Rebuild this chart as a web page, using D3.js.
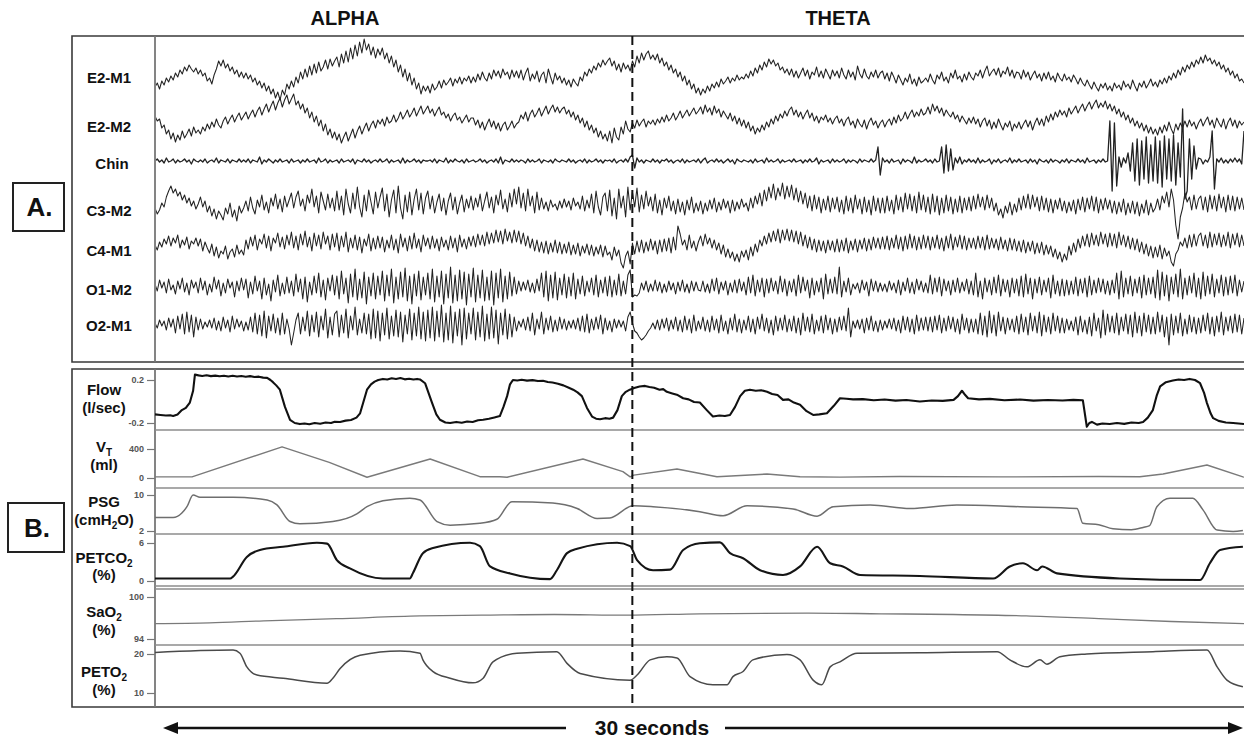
<!DOCTYPE html>
<html>
<head>
<meta charset="utf-8">
<script src="https://cdn.jsdelivr.net/npm/d3@7"></script>
<style>
  body { margin: 0; background: #fff; }
  svg { display: block; }
  text { font-family: "Liberation Sans", Arial, sans-serif; font-weight: bold; }
</style>
</head>
<body>
<svg id="chart" width="1244" height="742"></svg>
<script>
// ---------- Recording: 30 s epoch, alpha → theta transition ----------
const epochSeconds = 30;
const transitionTime = 13.15;           // s, alpha-to-theta boundary
const stageLabels = ["ALPHA", "THETA"];
const durationLabel = "30 seconds";

// EEG / EOG / EMG channels: deflections in display units, 480 samples over the epoch
const eegChannels = ["E2-M1", "E2-M2", "Chin", "C3-M2", "C4-M1", "O1-M2", "O2-M1"];

const e2m1 = [
  -12,-8,-14,-6,-10,-3,-7,-1,-5,2,-2,5,1,8,4,10,6,3,7,1,
  5,-1,2,-6,-3,-9,0,6,14,9,15,7,11,4,8,1,5,-2,3,-3,
  2,-4,0,-7,-3,-10,-6,-13,-8,-16,-11,-19,-14,-23,-17,-25,-15,-20,-9,-14,
  -6,-12,-2,-8,3,-4,6,-2,9,0,11,2,13,4,8,15,6,16,9,14,
  18,8,21,12,24,13,27,16,30,19,33,22,36,25,31,20,28,17,26,20,
  27,16,22,12,19,8,15,3,10,-2,6,-6,2,-10,-3,-14,-8,-19,-11,-16,
  -11,-18,-9,-15,-12,-6,-13,-5,-10,-7,-3,-11,-4,-8,-2,-9,-3,-6,-1,-8,
  -2,-7,1,-5,3,-3,-6,2,-4,5,-1,4,-3,6,0,3,-4,5,-2,4,
  -3,5,-5,2,7,-6,1,-4,4,-7,0,3,-8,6,-2,-9,2,-5,-1,-8,
  -3,-10,-5,-12,-4,-8,-11,-2,-6,3,-1,6,2,9,5,12,8,15,10,14,
  17,9,14,5,11,3,12,6,10,4,14,8,19,12,22,15,21,24,16,20,
  15,21,12,17,9,13,5,10,2,6,-2,3,-6,-1,-10,-5,-14,-9,-18,-13,
  -20,-14,-18,-11,-16,-9,-13,-7,-12,-4,-9,-6,-2,-8,-3,-6,0,-5,-2,-4,
  1,-3,4,-1,7,2,10,5,13,8,16,11,15,9,12,5,8,2,6,0,
  6,-2,4,-3,2,7,-1,5,-4,3,0,8,-2,4,-3,6,1,-4,5,-1,
  4,-3,7,0,-4,5,-2,3,-5,9,1,-3,6,-1,-4,3,-2,5,-3,2,
  4,-4,2,-6,3,-2,-8,0,-5,-10,-3,-7,1,-9,-4,-11,-2,-8,-6,-3,
  -7,1,-5,-9,0,-4,3,-6,-2,-8,2,-3,5,-4,-1,-7,1,-5,3,-2,
  -5,2,-1,5,-3,4,9,-1,3,6,0,7,-2,4,1,8,-1,5,-3,3,
  2,-4,5,-2,3,-5,0,4,-3,1,-6,2,-4,3,-5,-1,-7,2,-3,-6,
  1,-5,-2,-7,0,-4,-9,-3,-8,-11,-5,-10,-14,-7,-12,-16,-9,-13,-8,-15,
  -11,-16,-8,-13,-10,-15,-6,-12,-9,-14,-5,-11,-16,-8,-12,-6,-13,-9,-4,-11,
  -7,-12,-5,-9,-3,-8,-1,-5,2,-3,5,0,8,3,10,6,13,8,15,11,
  18,12,20,14,17,11,15,9,13,6,10,3,7,0,4,-3,1,-6,-4,-8
];
const e2m2 = [
  9,4,6,-3,0,-9,-5,-14,-8,-17,-10,-15,-6,-13,-9,-4,-11,-2,-8,-5,
  -9,-2,-6,1,-4,3,-2,6,0,-3,4,8,1,6,10,3,8,12,5,9,
  13,6,11,15,8,14,18,10,16,21,13,19,24,15,22,27,18,25,30,21,
  26,31,20,24,16,21,12,17,7,13,3,9,-1,5,-6,1,-10,-4,-13,-7,
  -15,-9,-18,-12,-7,-16,-10,-4,-13,-6,-1,-9,-3,2,-6,0,4,-3,5,1,
  6,-1,8,2,4,10,3,7,13,6,10,15,8,12,17,9,14,19,11,15,
  19,12,16,9,14,18,10,13,7,11,4,9,12,5,8,2,6,10,3,7,
  7,0,5,-3,3,-5,1,6,-2,4,-4,2,-6,0,3,-5,-1,4,-3,1,
  3,10,6,13,4,11,15,8,12,17,9,14,19,11,16,20,13,18,12,16,
  18,11,15,8,13,5,10,2,7,-2,4,-5,0,-8,-3,-12,-6,-14,-9,-16,
  -6,-18,-3,-12,-15,-2,-9,4,-4,-7,2,-3,5,-1,3,6,-2,4,1,5,
  0,6,2,8,3,10,4,7,12,5,9,14,7,11,15,9,13,17,11,14,
  18,11,20,13,17,10,19,12,16,8,14,10,6,12,4,9,1,7,-1,5,
  -3,3,-6,-1,-9,-3,-7,0,-5,3,-2,6,1,9,4,11,7,14,9,15,
  18,10,15,8,13,6,11,15,7,12,4,9,2,8,5,10,3,7,1,6,
  9,2,6,-1,5,8,0,4,-3,6,1,-2,5,-4,3,7,0,4,-3,2,
  5,-2,3,6,0,8,2,10,4,7,13,6,11,15,8,13,9,16,10,12,
  18,11,21,14,19,12,17,9,15,11,8,13,6,10,3,9,5,1,7,2,
  8,1,6,-2,4,7,-1,5,-4,3,-3,6,0,-5,2,-2,4,-6,1,-3,
  3,-4,1,5,-2,4,-5,2,7,0,6,-1,9,3,11,5,13,8,15,10,
  14,8,17,11,15,19,12,17,21,14,19,23,16,21,25,17,22,18,24,16,
  21,14,19,11,16,8,13,5,10,2,7,-1,4,-3,2,-6,0,-8,-2,-9,
  -4,-10,-2,-8,0,-6,3,-4,-9,1,-5,2,-3,4,-2,5,-1,3,-4,2,
  6,-1,4,8,0,5,-3,7,2,-2,6,-4,3,7,-1,5,-3,4,0,3
];
const chin = [
  0,2,-1,1,-2,3,-1,0,2,-2,1,-1,0,2,-1,1,-3,2,0,-1,
  1,-1,2,-2,0,1,-1,3,-2,1,0,-1,2,-2,1,0,-1,2,-1,1,
  -1,2,-2,1,0,-1,4,-3,1,-1,2,0,-2,1,-1,2,-1,0,1,-2,
  2,-1,0,1,-2,1,-1,2,-1,0,1,-2,3,-1,0,2,-2,1,-1,0,
  1,-2,2,-1,0,1,-1,2,-3,1,0,-1,2,-1,1,-2,0,1,-1,2,
  -1,0,2,-2,1,-1,0,1,-2,3,-2,1,-1,0,2,-1,1,-2,1,0,
  0,1,-1,2,-2,1,0,-1,3,-2,1,-1,2,0,-1,1,-2,2,-1,0,
  1,-1,0,2,-1,1,-2,0,1,-1,2,-2,4,-3,1,0,-1,2,-1,1,
  -1,1,0,-2,2,-1,1,-1,0,2,-2,1,0,-1,1,-2,2,0,-1,1,
  0,-1,2,-1,1,-2,0,1,-1,2,-2,1,-1,0,2,-1,1,-2,1,0,
  1,-1,2,-2,0,1,-1,2,-1,4,6,-7,3,-1,1,-2,1,0,-1,2,
  -1,1,-2,1,0,2,-1,1,-2,0,1,-1,2,-2,1,-1,0,1,-1,2,
  -2,1,3,-2,0,1,-1,2,-1,1,-2,0,2,-1,1,-3,2,0,-1,1,
  0,-1,1,-2,2,-1,0,1,-2,3,-1,1,-1,0,2,-2,1,-1,0,1,
  -1,2,-1,0,1,-2,1,-1,2,-1,0,3,-3,1,-1,0,1,-2,2,-1,
  1,-1,0,2,-2,1,-1,1,0,-2,2,-1,1,0,-1,2,-1,1,14,-14,
  3,-1,1,-2,2,-1,0,1,-3,2,-1,1,0,-2,4,-2,1,-1,0,2,
  -1,1,-2,2,-1,0,14,-12,16,-10,12,-9,3,-2,4,-3,1,-1,2,-1,
  1,-2,3,-2,1,-1,0,2,-3,1,-1,2,-2,0,1,-1,3,-2,1,-1,
  2,-1,0,1,-2,2,-1,1,-3,2,0,-1,1,-2,2,-1,1,0,-2,1,
  -1,2,-2,1,0,-1,2,-1,1,-2,3,-1,0,1,-2,1,-1,2,-1,0,
  40,-30,38,-25,4,-6,3,-2,8,-10,18,-20,22,-24,20,-18,24,-22,16,-20,
  24,-22,20,-26,25,-18,22,-20,26,-24,18,-16,52,-38,-30,22,-18,15,-8,3,
  2,-3,1,-1,4,30,-28,2,-1,3,-2,1,-2,2,-1,3,-1,2,-3,30
];
const c3m2 = [
  -3,-9,-5,2,-2,8,14,19,12,16,9,13,5,10,2,7,-1,4,-4,1,
  8,-2,4,-7,-1,-11,-4,-14,-6,-10,-15,-3,-9,2,-12,-5,-16,-1,-8,-3,
  4,-6,8,-3,-9,5,-2,10,-5,3,-8,7,-1,11,-4,6,-7,9,-2,5,
  12,-3,8,14,-1,6,-6,10,2,16,-2,9,-8,13,4,-5,11,-3,7,-6,
  14,-5,9,-10,16,1,-8,12,-4,18,-2,-12,10,-6,15,3,-9,13,-3,8,
  17,-6,11,-12,5,15,-8,19,-3,-14,10,-7,13,-10,6,16,-5,12,-9,7,
  14,-4,9,-8,3,11,-6,7,-10,4,12,-5,8,-9,2,10,-7,6,-3,9,
  -5,7,-2,11,-6,4,13,-3,8,-8,10,0,15,-4,6,-7,12,-2,16,1,
  18,-3,12,-6,16,-1,9,-8,13,-5,7,-4,3,-6,5,-2,1,-5,4,-3,
  6,-2,4,-5,7,-1,3,-4,9,-6,5,-3,11,-8,14,-2,-10,8,12,-6,
  15,-11,7,-14,16,-3,9,-12,18,-5,13,-2,17,-7,10,-4,14,-1,8,-6,
  11,-8,5,-10,7,-3,9,-6,4,-9,6,-7,3,-10,5,-5,8,-8,2,-6,
  4,-9,2,-6,5,-4,7,-7,3,-5,6,-3,4,-8,5,-6,3,-4,6,-2,
  2,-6,7,-3,9,1,12,-1,15,4,18,7,21,5,17,9,22,6,19,8,
  20,5,17,3,14,1,12,-3,9,-6,10,-4,8,-8,6,-5,9,-7,7,-4,
  8,-7,5,-9,9,-6,7,-8,10,-4,6,-9,8,-7,5,-10,9,-6,7,-8,
  7,-8,9,-6,5,-9,10,-5,8,-7,12,-4,11,-6,9,-8,13,-5,10,-7,
  8,-9,11,-7,9,-10,7,-8,10,-6,8,-9,6,-7,9,-8,7,-5,8,-6,
  9,-4,11,-2,8,-5,10,-3,7,-6,2,-10,-4,-13,-1,-8,3,-10,1,-7,
  7,-5,9,-3,11,-4,10,-2,8,-6,9,-5,7,-7,6,-8,5,-4,7,-6,
  4,-8,3,-6,5,-9,6,-5,8,-7,7,-4,9,-6,8,-8,6,-5,7,-4,
  5,-8,4,-9,3,-7,6,-10,2,-8,4,-9,3,-11,1,-8,5,-10,2,-7,
  -3,6,-5,9,2,13,-2,16,5,-20,-34,-12,-3,12,3,8,-5,10,-4,6,
  9,-5,8,-7,10,-4,9,-6,11,-3,8,-7,10,-5,9,-6,8,-4,7,-5
];
const c4m1 = [
  3,-2,6,1,9,4,12,2,10,5,13,0,8,3,11,-1,7,4,10,2,
  9,-3,6,0,-5,4,-8,1,-10,-3,-6,2,-11,-4,-1,-9,3,-6,-2,-7,
  8,-1,11,2,13,-2,9,4,14,0,12,-3,10,5,15,1,11,-1,13,3,
  16,0,12,-2,14,3,17,1,11,-3,15,2,13,-1,16,4,12,-2,14,1,
  15,-3,12,1,16,-4,10,0,13,-2,11,-5,9,2,14,-3,10,-1,12,0,
  11,-4,8,0,13,-2,9,-5,14,1,10,-3,12,-1,15,0,9,-4,13,2,
  10,-1,12,0,9,-3,11,1,8,-2,12,0,10,-4,13,1,9,-1,11,2,
  12,1,14,3,13,2,16,4,15,5,18,6,17,4,19,7,16,5,18,6,
  17,4,15,2,12,0,9,-3,8,-4,6,-5,7,-6,5,-4,8,-5,6,-6,
  4,-5,6,-7,3,-6,5,-8,2,-5,4,-7,3,-8,1,-6,3,-9,2,-7,
  -4,-12,1,-8,-2,-15,-20,-8,-3,-16,5,-6,7,-4,8,-5,6,-3,9,-2,
  7,-6,8,-4,9,-3,10,-5,11,-2,22,14,3,8,-2,13,0,7,-3,6,
  12,2,14,4,10,0,8,-2,5,-6,3,-9,-1,-10,-4,-13,-6,-14,-3,-9,
  -2,-12,1,-8,4,-4,8,2,12,4,15,6,17,7,19,5,18,8,19,7,
  18,6,17,4,16,2,13,0,11,-2,9,-4,8,-3,7,-5,8,-2,7,-4,
  9,-4,8,-3,10,-5,7,-2,9,-4,8,-1,10,-3,9,-2,11,0,10,-1,
  11,-1,12,-2,10,0,13,-1,11,-3,12,-1,14,0,12,-2,11,-1,13,0,
  12,-2,11,0,13,-1,10,-3,12,0,14,-2,11,1,13,-1,12,-2,10,0,
  10,-1,12,0,11,-2,13,-1,10,0,9,-2,11,-1,8,-3,10,-2,9,-3,
  7,-4,8,-5,6,-3,7,-6,5,-5,6,-7,3,-6,2,-9,-1,-11,-4,-14,
  -6,-12,2,-7,5,-4,9,0,12,2,14,1,15,3,13,2,16,4,14,1,
  15,2,14,0,16,3,13,1,12,-1,10,-2,9,-4,6,-6,4,-8,2,-10,
  1,-9,3,-11,0,-8,-3,-14,-18,-6,-2,6,2,10,0,13,1,14,2,12,
  15,2,13,0,16,1,14,3,15,1,13,2,16,0,14,3,15,1,13,2
];
const o1m2 = [
  3,-4,7,-1,5,-6,8,-3,2,-7,6,-2,9,-5,4,-8,7,-1,5,-6,
  9,-3,6,-8,3,-5,10,-2,7,-9,4,-6,8,-1,5,-10,6,-4,9,-3,
  8,-11,5,-7,11,-4,6,-12,9,-8,3,-14,7,-5,12,-9,4,-7,10,-6,
  6,-9,13,-5,8,-12,10,-15,5,-8,11,-6,14,-10,7,-13,9,-4,12,-8,
  11,-12,16,-7,9,-16,13,-10,18,-13,8,-11,15,-17,10,-9,14,-12,11,-8,
  16,-14,12,-9,18,-16,10,-12,15,-10,19,-14,11,-17,13,-9,16,-13,10,-8,
  14,-12,18,-15,11,-10,16,-17,13,-11,20,-16,12,-14,17,-12,15,-18,13,-10,
  19,-15,12,-11,17,-14,10,-13,16,-18,14,-11,18,-15,11,-12,15,-9,10,-7,
  6,-4,5,-3,7,-5,4,-6,8,-4,14,-10,16,-14,12,-11,15,-13,9,-8,
  13,-11,10,-9,14,-12,8,-7,11,-9,6,-5,9,-8,12,-10,7,-6,10,-9,
  11,-10,7,-8,13,-9,6,-7,12,17,-10,-8,-9,-6,4,-3,6,-5,3,-4,
  7,-4,5,-6,3,-5,6,-3,4,-7,5,-4,7,-5,3,-6,6,-4,5,-3,
  -4,6,-5,3,-6,8,-4,9,-7,5,-3,6,-8,4,-5,7,-6,8,-4,5,
  -8,10,-6,12,-9,7,-5,9,-10,8,-6,9,-4,6,-7,11,-5,8,-9,6,
  -5,8,-9,12,-6,10,-4,7,-11,9,-8,6,-5,9,-12,13,-7,8,-6,10,
  -7,20,-10,6,-5,9,-8,3,-2,4,-6,7,-3,5,-9,8,-4,6,-5,4,
  -4,3,-5,6,-3,4,-6,7,-8,5,-4,9,-6,5,-7,8,-3,6,-5,4,
  -6,12,-7,9,-5,10,-9,8,-4,6,-8,7,-5,9,-6,5,-4,8,-7,6,
  -8,14,-10,6,-12,9,-5,7,-8,10,-6,12,-9,8,-5,7,-10,9,-6,8,
  -9,11,-10,13,-7,9,-12,8,-6,10,-8,7,-5,9,-11,12,-7,6,-9,8,
  -9,7,-8,6,-7,10,-9,8,-6,9,-10,11,-8,7,-6,9,-5,8,-7,6,
  -8,7,-6,14,-12,16,-10,9,-7,11,-9,8,-6,10,-11,12,-8,9,-7,10,
  -11,17,-13,15,-9,12,-14,10,-7,13,-10,18,-12,9,-8,11,-6,14,-10,9,
  -12,15,-9,11,-7,13,-10,8,-6,12,-9,10,-8,11,-6,12,-9,7,-5,6
];
const o2m1 = [
  2,-3,5,-1,4,-5,7,-2,6,-8,9,-4,11,-9,13,-7,10,-12,8,-5,
  6,-4,3,-2,5,-3,7,-5,4,-6,8,-3,5,-7,9,-4,6,-2,4,-6,
  3,-5,8,-7,12,-9,10,-11,14,-13,9,-6,11,-8,7,-10,12,-9,6,-4,
  -20,-8,5,12,-9,8,-6,14,-11,10,-7,13,-12,9,-5,16,-13,8,-10,11,
  14,-12,10,-8,16,-13,9,-5,18,-10,6,-8,12,-9,11,-14,16,-13,14,-16,
  12,-10,17,-14,9,-11,15,-12,13,-17,10,-9,16,-15,12,-11,18,-14,13,-16,
  15,-13,18,-16,14,-12,20,-17,12,-15,19,-18,13,-11,16,-20,17,-14,12,-9,
  17,-15,13,-12,19,-16,11,-14,18,-13,15,-19,12,-10,16,-14,11,-12,8,-6,
  4,-2,6,-5,8,-6,12,-10,6,-4,13,-9,7,-5,9,-7,5,-6,8,-4,
  6,-5,4,-3,5,-4,7,-6,9,-7,11,-8,6,-5,8,-4,10,-9,7,-5,
  4,-7,6,-3,5,-2,4,-6,8,13,2,-6,-8,-12,-15,-13,-10,-6,-3,2,
  -4,5,-5,6,-3,7,-6,5,-4,8,-6,5,-7,9,-5,6,-8,10,-6,4,
  -4,8,-6,5,-7,9,-5,6,-8,10,-6,4,-9,7,-5,11,-7,6,-8,5,
  -5,9,-7,6,-9,8,-4,11,-6,7,-8,5,-10,9,-6,7,-5,10,-7,6,
  -6,9,-8,7,-10,12,-6,8,-7,11,-9,5,-6,9,-8,10,-5,7,-9,6,
  -7,8,-5,9,-6,17,-12,4,-3,5,-4,6,-8,7,-5,9,-6,4,-7,5,
  -5,4,-3,6,-4,7,-6,5,-8,9,-5,8,-7,6,-9,10,-6,7,-5,8,
  -6,8,-7,9,-5,10,-8,7,-6,9,-4,8,-7,6,-9,11,-5,7,-8,6,
  -7,6,-9,12,-10,9,-12,14,-8,10,-11,13,-6,8,-9,7,-5,6,-7,9,
  -9,11,-7,8,-10,12,-6,9,-8,13,-11,10,-7,8,-9,12,-6,9,-8,7,
  -8,6,-5,4,-6,8,-10,9,-7,5,-9,8,-11,12,-6,7,-13,15,-10,11,
  -7,9,-8,12,-10,8,-6,11,-9,10,-12,13,-8,9,-11,12,-7,10,-9,8,
  -9,13,-7,10,-12,8,-20,11,-10,9,-8,12,-11,6,-9,10,-7,8,-9,7,
  -8,10,-6,12,-9,8,-11,9,-7,13,-10,8,-6,9,-8,11,-7,10,-9,7
];

// Respiratory channels: sample times (s) and values
const flowTime = [
  0,0.15,0.3,0.42,0.5,0.62,0.74,0.85,0.96,1.05,
  1.1,1.2,1.3,1.42,1.54,1.66,1.78,1.9,2.02,2.14,
  2.26,2.38,2.5,2.62,2.74,2.86,2.98,3.09,3.18,3.25,
  3.34,3.44,3.58,3.72,3.85,3.99,4.12,4.25,4.4,4.55,
  4.7,4.85,4.95,5.1,5.25,5.4,5.55,5.65,5.84,5.95,
  6.05,6.15,6.28,6.4,6.52,6.64,6.76,6.88,7.0,7.12,
  7.22,7.3,7.44,7.63,7.75,7.85,8.0,8.13,8.3,8.45,
  8.6,8.75,8.9,9.04,9.2,9.35,9.5,9.6,9.7,9.78,
  9.86,9.98,10.1,10.25,10.4,10.55,10.69,10.82,10.95,11.1,
  11.25,11.4,11.52,11.64,11.76,11.9,12.04,12.15,12.26,12.4,
  12.52,12.62,12.74,12.86,12.97,13.08,13.2,13.35,13.5,13.62,
  13.75,13.9,14.0,14.1,14.25,14.4,14.55,14.7,14.85,15.01,
  15.2,15.37,15.55,15.7,15.84,15.98,16.12,16.25,16.39,16.55,
  16.7,16.86,17.0,17.15,17.3,17.45,17.6,17.77,17.95,18.13,
  18.3,18.51,18.7,18.87,19.05,19.23,19.5,19.8,20.1,20.4,
  20.7,21.07,21.4,21.7,22.0,22.12,22.23,22.32,22.4,22.7,
  23.0,23.4,23.83,24.2,24.6,25.0,25.3,25.56,25.67,25.74,
  25.81,25.95,26.1,26.3,26.5,26.7,26.9,27.1,27.22,27.35,
  27.49,27.6,27.69,27.85,28.04,28.2,28.35,28.5,28.65,28.79,
  28.9,28.98,29.08,29.15,29.3,29.5,29.7,29.85,30
];
const flowValue = [
  -0.12,-0.125,-0.13,-0.128,-0.135,-0.12,-0.08,-0.06,-0.01,0.1,
  0.25,0.243,0.238,0.244,0.236,0.241,0.235,0.24,0.232,0.239,
  0.233,0.237,0.231,0.236,0.228,0.231,0.222,0.22,0.2,0.18,
  0.15,0.11,-0.05,-0.17,-0.2,-0.21,-0.205,-0.212,-0.2,-0.207,
  -0.196,-0.2,-0.188,-0.19,-0.178,-0.172,-0.15,-0.11,0.11,0.16,
  0.185,0.2,0.21,0.205,0.216,0.21,0.218,0.206,0.212,0.204,
  0.21,0.205,0.17,-0.01,-0.12,-0.17,-0.195,-0.2,-0.19,-0.197,
  -0.186,-0.19,-0.175,-0.17,-0.16,-0.148,-0.135,-0.05,0.05,0.16,
  0.2,0.196,0.202,0.194,0.199,0.19,0.193,0.182,0.176,0.165,
  0.15,0.128,0.11,0.085,0.05,-0.06,-0.14,-0.16,-0.165,-0.155,
  -0.16,-0.15,-0.08,0.05,0.09,0.11,0.125,0.14,0.145,0.135,
  0.128,0.11,0.115,0.09,0.075,0.06,0.03,0.02,-0.005,-0.01,
  -0.08,-0.14,-0.13,-0.135,-0.125,-0.05,0.05,0.1,0.11,0.1,
  0.105,0.09,0.07,0.06,0.015,0.02,-0.01,-0.03,-0.09,-0.125,
  -0.12,-0.11,-0.04,0.03,0.025,0.02,0.022,0.012,0.018,0.008,
  0.014,0.0,0.01,0.006,0.015,0.05,0.1,0.06,0.03,0.02,
  0.024,0.012,0.018,0.008,0.014,0.01,0.015,0.012,-0.235,-0.2,
  -0.19,-0.215,-0.205,-0.21,-0.2,-0.208,-0.196,-0.2,-0.19,-0.15,
  -0.08,0.06,0.14,0.18,0.195,0.205,0.2,0.21,0.2,0.17,
  0.08,-0.015,-0.11,-0.155,-0.18,-0.195,-0.2,-0.205,-0.21
];

const vtTime  = [0,1.02,3.5,4.8,5.84,7.58,8.95,9.5,9.7,11.79,12.89,13.09,13.19,14.38,15.48,16.86,17.77,18.87,20.5,23.3,26.0,27.13,27.77,28.98,29.97,30];
const vtValue = [15,15,430,215,10,262,18,18,10,262,87,15,40,124,18,55,18,12,20,15,20,18,55,179,15,12];

const psgTime  = [0,0.5,0.74,0.88,1.05,1.24,2.15,3.09,3.36,3.72,3.99,4.9,5.56,5.84,6.28,7.02,7.3,7.77,8.13,8.95,
  9.42,9.83,10.96,11.63,12.18,12.53,13.17,13.72,15.01,15.65,16.31,17.58,18.24,18.68,19.7,20.8,22.09,23.83,25.4,25.56,
  26.0,26.39,26.9,27.22,27.4,27.6,27.96,28.59,28.87,29.26,29.7,29.97];
const psgValue = [5.0,5.0,6.0,7.4,10.0,9.5,9.5,8.9,7.8,4.1,3.6,4.1,5.8,7.4,8.7,9.3,8.9,4.1,3.3,3.7,
  4.6,8.5,8.2,7.0,4.8,4.9,7.6,7.4,6.3,5.4,7.6,6.9,5.3,7.4,7.8,7.0,7.8,7.4,7.0,3.7,
  3.4,2.5,2.3,2.8,3.2,7.4,9.3,9.3,6.7,2.2,1.9,2.1];

const co2Time  = [0,2.07,2.15,2.53,2.89,3.53,4.46,4.74,5.01,5.37,6.28,7.02,7.11,7.38,7.66,8.68,8.95,9.23,9.78,10.88,
  11.07,11.35,11.63,12.73,13.09,13.28,13.72,14.19,14.55,15.01,15.56,15.84,16.2,16.67,17.3,17.77,18.24,18.6,18.95,19.42,
  21.07,23.09,23.55,23.91,24.3,24.44,24.85,26.58,28.79,29.06,29.34,29.97];
const co2Value = [0.4,0.4,0.7,3.8,4.9,5.4,6.05,5.9,3.3,2.0,0.4,0.4,1.3,4.4,5.2,6.05,5.5,2.3,1.2,0.3,
  1.7,4.4,5.1,6.05,5.5,3.3,1.7,1.8,4.9,5.95,6.1,4.4,3.6,1.7,0.95,2.3,5.4,2.8,2.3,0.95,
  0.8,0.4,2.3,2.8,1.7,2.3,1.2,0.4,0.15,2.8,4.9,5.4];

const sao2Time  = [0,1.5,3,5,7.3,9,11,13,15,18,20,22,24,26,28,30];
const sao2Value = [96.2,96.3,96.6,96.9,97.3,97.4,97.5,97.4,97.6,97.7,97.6,97.5,97.3,96.9,96.5,96.2];

const o2Time  = [0,2.15,2.34,2.53,2.81,3.53,4.74,4.9,5.1,5.65,6.75,7.3,7.38,7.66,8.13,8.76,9.04,9.31,9.97,11.07,
  11.35,11.71,13.09,13.28,13.64,14.1,14.38,14.74,15.37,15.76,15.92,16.2,16.47,17.41,17.77,18.13,18.37,18.6,18.87,19.34,
  21.07,23.2,23.55,24.02,24.38,24.57,24.93,25.67,27.49,28.98,29.26,29.53,29.97];
const o2Value = [20.4,21.0,20.2,16.7,14.6,13.8,12.5,13.8,16.3,19.7,20.8,20.2,18.5,15.5,13.8,12.6,13.8,18.0,20.2,20.6,
  17.6,15.0,13.3,14.6,18.5,19.3,19.0,14.2,12.1,12.1,14.2,15.5,18.5,19.9,18.5,13.3,12.1,16.7,18.0,20.2,
  20.3,20.6,18.5,16.7,18.5,17.4,19.3,20.0,20.6,21.0,16.7,13.3,11.6];

// ---------- Layout ----------
const svg = d3.select("#chart");
const x = d3.scaleLinear().domain([0, epochSeconds]).range([155, 1244]);

const panelA = { top: 36, bottom: 362 };
const panelB = { top: 369, bottom: 707 };
const frameLeft = 72, divider = 155, right = 1244;

// Stage headers
svg.selectAll("text.stage").data(stageLabels).join("text")
  .attr("class", "stage")
  .attr("x", (d, i) => i === 0 ? 345 : 838)
  .attr("y", 25)
  .attr("text-anchor", "middle")
  .attr("font-size", 20)
  .attr("fill", "#111")
  .text(d => d);

// Panel frames
function frame(p) {
  svg.append("path")
    .attr("d", `M${right},${p.top}H${frameLeft}V${p.bottom}H${right}`)
    .attr("fill", "none").attr("stroke", "#3a3a3a").attr("stroke-width", 1.6);
  svg.append("line")
    .attr("x1", divider).attr("x2", divider).attr("y1", p.top).attr("y2", p.bottom)
    .attr("stroke", "#777").attr("stroke-width", 1.8);
}
frame(panelA);
frame(panelB);

// Panel letters
const letters = [
  { t: "A.", x: 13, y: 183, w: 51, h: 48, size: 26 },
  { t: "B.", x: 8, y: 503, w: 56, h: 49, size: 26 }
];
letters.forEach(l => {
  svg.append("rect").attr("x", l.x).attr("y", l.y).attr("width", l.w).attr("height", l.h)
    .attr("fill", "none").attr("stroke", "#222").attr("stroke-width", 2);
  svg.append("text").attr("x", l.x + l.w / 2 + 1).attr("y", l.y + l.h / 2 + 9)
    .attr("text-anchor", "middle").attr("font-size", l.size).attr("fill", "#111").text(l.t);
});

// ---------- Panel A: EEG ----------
const laneCenters = [75, 125, 161, 205, 248, 287, 325];
const eegData = [e2m1, e2m2, chin, c3m2, c4m1, o1m2, o2m1];

svg.append("clipPath").attr("id", "clipA").append("rect")
  .attr("x", divider + 1).attr("y", panelA.top + 1)
  .attr("width", right - divider).attr("height", panelA.bottom - panelA.top - 2);

const gA = svg.append("g").attr("clip-path", "url(#clipA)");
eegData.forEach((series, k) => {
  const n = series.length;
  const y = d3.scaleLinear().domain([-50, 50]).range([laneCenters[k] + 50, laneCenters[k] - 50]);
  const line = d3.line()
    .x((d, i) => x(i * epochSeconds / (n - 1)))
    .y(d => y(d));
  gA.append("path").datum(series)
    .attr("d", line)
    .attr("fill", "none")
    .attr("stroke", "#222")
    .attr("stroke-width", k === 2 ? 1.3 : 1.05)
    .attr("stroke-linejoin", "round");
});

const eegLabelPos = [[109, 82.5], [109, 131.5], [112, 168.5], [109, 215.5], [109, 255.5], [109, 294.5], [109, 330.5]];
svg.selectAll("text.eeg").data(eegChannels).join("text")
  .attr("class", "eeg")
  .attr("x", (d, i) => eegLabelPos[i][0])
  .attr("y", (d, i) => eegLabelPos[i][1])
  .attr("text-anchor", "middle")
  .attr("font-size", 15)
  .attr("fill", "#111")
  .text(d => d);

// ---------- Panel B: respiratory ----------
const separators = [430, 488, 534, 586, 589, 645];
svg.selectAll("line.sep").data(separators).join("line")
  .attr("class", "sep")
  .attr("x1", divider).attr("x2", right)
  .attr("y1", d => d).attr("y2", d => d)
  .attr("stroke", "#8c8c8c").attr("stroke-width", 1.6);

const flowY = d3.scaleLinear().domain([-0.2, 0.2]).range([423, 380]);
const vtY   = d3.scaleLinear().domain([0, 400]).range([478, 449]);
const psgY  = d3.scaleLinear().domain([2, 10]).range([531, 495]);
const co2Y  = d3.scaleLinear().domain([0, 6]).range([581, 543]);
const sao2Y = d3.scaleLinear().domain([94, 100]).range([639, 597]);
const o2Y   = d3.scaleLinear().domain([10, 20]).range([693, 654]);

const traces = [
  { t: flowTime, v: flowValue, y: flowY, ticks: [-0.2, 0.2], color: "#111", w: 2.1, curve: d3.curveLinear },
  { t: vtTime, v: vtValue, y: vtY, ticks: [0, 400], color: "#7a7a7a", w: 1.4, curve: d3.curveLinear },
  { t: psgTime, v: psgValue, y: psgY, ticks: [2, 10], color: "#6e6e6e", w: 1.5, curve: d3.curveMonotoneX },
  { t: co2Time, v: co2Value, y: co2Y, ticks: [0, 6], color: "#151515", w: 2.1, curve: d3.curveMonotoneX },
  { t: sao2Time, v: sao2Value, y: sao2Y, ticks: [94, 100], color: "#7a7a7a", w: 1.3, curve: d3.curveMonotoneX },
  { t: o2Time, v: o2Value, y: o2Y, ticks: [10, 20], color: "#4a4a4a", w: 1.5, curve: d3.curveMonotoneX }
];

traces.forEach(tr => {
  const pts = d3.zip(tr.t, tr.v);
  const line = d3.line().x(d => x(d[0])).y(d => tr.y(d[1])).curve(tr.curve);
  svg.append("path").datum(pts)
    .attr("d", line)
    .attr("fill", "none")
    .attr("stroke", tr.color)
    .attr("stroke-width", tr.w)
    .attr("stroke-linejoin", "round");

  const axis = d3.axisLeft(tr.y).tickValues(tr.ticks).tickSize(8).tickPadding(3)
    .tickFormat(d => String(d));
  const g = svg.append("g").attr("transform", `translate(${divider},0)`).call(axis);
  g.select(".domain").remove();
  g.selectAll(".tick line").attr("stroke", "#777").attr("stroke-width", 1.2);
  g.selectAll(".tick text")
    .attr("font-family", "Liberation Sans, Arial, sans-serif")
    .attr("font-weight", "bold")
    .attr("font-size", 9)
    .attr("fill", "#555");
});

// Channel labels with subscripts
const bLabels = [
  { y: 395, parts: [["Flow"]] },
  { y: 413, parts: [["(l/sec)"]] },
  { y: 451.5, parts: [["V"], ["T", "sub"]] },
  { y: 470, parts: [["(ml)"]] },
  { y: 506.5, parts: [["PSG"]] },
  { y: 525, parts: [["(cmH"], ["2", "sub"], ["O)"]] },
  { y: 563, parts: [["PETCO"], ["2", "sub"]] },
  { y: 580, parts: [["(%)"]] },
  { y: 617, parts: [["SaO"], ["2", "sub"]] },
  { y: 635, parts: [["(%)"]] },
  { y: 677, parts: [["PETO"], ["2", "sub"]] },
  { y: 695, parts: [["(%)"]] }
];
bLabels.forEach(lb => {
  const t = svg.append("text").attr("x", 104).attr("y", lb.y)
    .attr("text-anchor", "middle").attr("font-size", 15).attr("fill", "#111");
  lb.parts.forEach(p => {
    const s = t.append("tspan").text(p[0]);
    if (p[1] === "sub") s.attr("font-size", 10).attr("dy", 4);
    else if (t.selectAll("tspan").size() > 1) s.attr("dy", -4);
  });
});

// Stage boundary
svg.append("line")
  .attr("x1", x(transitionTime)).attr("x2", x(transitionTime))
  .attr("y1", panelA.top).attr("y2", panelB.bottom)
  .attr("stroke", "#111").attr("stroke-width", 2)
  .attr("stroke-dasharray", "9,5");

// ---------- Duration arrow ----------
const arrowY = 728;
svg.append("line").attr("x1", 175).attr("x2", 566).attr("y1", arrowY).attr("y2", arrowY)
  .attr("stroke", "#111").attr("stroke-width", 2.6);
svg.append("line").attr("x1", 725).attr("x2", 1230).attr("y1", arrowY).attr("y2", arrowY)
  .attr("stroke", "#111").attr("stroke-width", 2.6);
svg.append("path").attr("d", `M163,${arrowY}L178,${arrowY - 6}L178,${arrowY + 6}Z`).attr("fill", "#111");
svg.append("path").attr("d", `M1243,${arrowY}L1228,${arrowY - 6}L1228,${arrowY + 6}Z`).attr("fill", "#111");
svg.append("text").attr("x", 652).attr("y", 735).attr("text-anchor", "middle")
  .attr("font-size", 21).attr("fill", "#111").text(durationLabel);
</script>
</body>
</html>
